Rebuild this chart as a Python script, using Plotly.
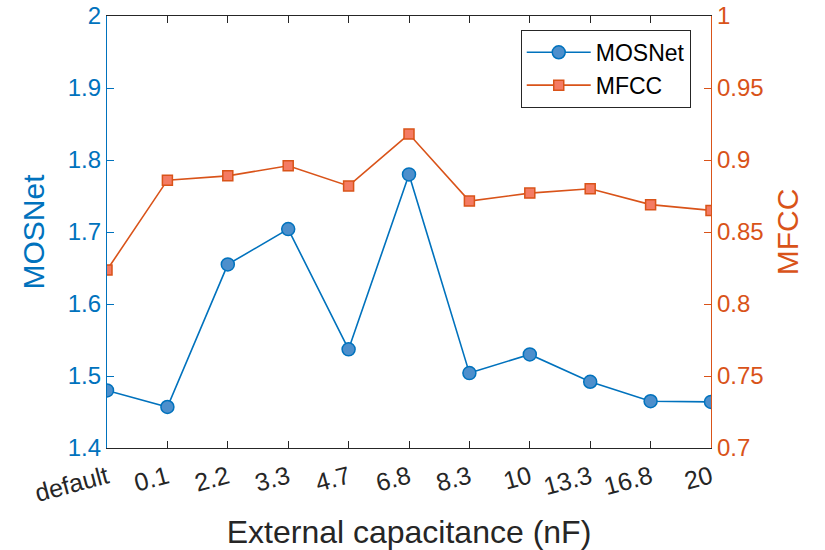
import plotly.graph_objects as go

categories = ["default", "0.1", "2.2", "3.3", "4.7", "6.8", "8.3", "10", "13.3", "16.8", "20"]
mosnet = [1.480, 1.457, 1.655, 1.704, 1.537, 1.780, 1.504, 1.530, 1.492, 1.465, 1.464]
mfcc = [0.8236, 0.886, 0.889, 0.896, 0.882, 0.918, 0.8715, 0.877, 0.880, 0.869, 0.865]

left_ticks = [1.4, 1.5, 1.6, 1.7, 1.8, 1.9, 2.0]
left_labels = ["1.4", "1.5", "1.6", "1.7", "1.8", "1.9", "2"]
right_ticks = [0.7, 0.75, 0.8, 0.85, 0.9, 0.95, 1.0]
right_labels = ["0.7", "0.75", "0.8", "0.85", "0.9", "0.95", "1"]

BLUE = "#0072BD"
ORANGE = "#D95319"
FONT = "Liberation Sans, Arial, Helvetica, sans-serif"

xi = list(range(len(categories)))

fig = go.Figure()
fig.add_trace(go.Scatter(
    x=xi, y=mosnet, name="MOSNet", mode="lines+markers",
    line=dict(color=BLUE, width=1.6),
    marker=dict(symbol="circle", size=13, color="#4D8FCC", line=dict(color=BLUE, width=1.5)),
    yaxis="y",
))
fig.add_trace(go.Scatter(
    x=xi, y=mfcc, name="MFCC", mode="lines+markers",
    line=dict(color=ORANGE, width=1.6),
    marker=dict(symbol="square", size=10, color="#F47B63", line=dict(color=ORANGE, width=1.5)),
    yaxis="y2",
))

fig.update_layout(
    width=825, height=550,
    margin=dict(l=107, r=114, t=16, b=102),
    paper_bgcolor="white", plot_bgcolor="white",
    font=dict(family=FONT, size=24, color="#262626"),
    showlegend=True,
    legend=dict(
        x=0.685, y=0.968, xanchor="left", yanchor="top",
        bordercolor="#262626", borderwidth=1, bgcolor="white",
        font=dict(size=23, color="#000000"), itemwidth=64,
        tracegroupgap=0,
    ),
    xaxis=dict(
        range=[0, 10], tickmode="array", tickvals=xi, ticktext=categories,
        tickangle=-15, ticks="inside", ticklen=7, tickcolor="#262626",
        showline=True, linecolor="#262626", linewidth=1.2, mirror="ticks",
        showgrid=False, zeroline=False, ticklabelstandoff=4, automargin=False,
        tickfont=dict(size=25, color="#262626"),
        title=dict(text="External capacitance (nF)", font=dict(size=32, color="#262626"), standoff=14),
    ),
    yaxis=dict(
        range=[1.4, 2.0], tickmode="array", tickvals=left_ticks, ticktext=left_labels,
        ticks="inside", ticklen=7, tickcolor=BLUE, automargin=False,
        showline=True, linecolor=BLUE, linewidth=1.2,
        showgrid=False, zeroline=False,
        tickfont=dict(size=24, color=BLUE),
        title=dict(text="MOSNet", font=dict(size=30, color=BLUE), standoff=14),
    ),
    yaxis2=dict(
        range=[0.7, 1.0], tickmode="array", tickvals=right_ticks, ticktext=right_labels,
        overlaying="y", side="right", anchor="x", automargin=False,
        ticks="inside", ticklen=7, tickcolor=ORANGE,
        showline=True, linecolor=ORANGE, linewidth=1.2,
        showgrid=False, zeroline=False,
        tickfont=dict(size=24, color=ORANGE),
        title=dict(text="MFCC", font=dict(size=30, color=ORANGE), standoff=14),
    ),
)

fig.write_html("out.html")
